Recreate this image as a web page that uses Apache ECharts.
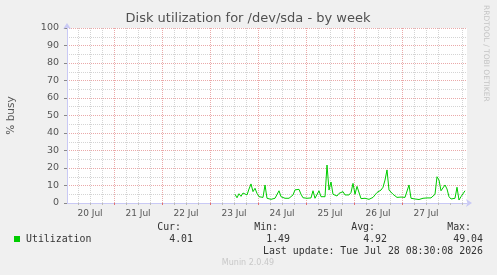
<!DOCTYPE html>
<html>
<head>
<meta charset="utf-8">
<script src="https://cdn.jsdelivr.net/npm/echarts@6/dist/echarts.min.js"></script>
<style>
html,body{margin:0;padding:0;background:#f0f0f0;}
#chart{width:497px;height:275px;}
</style>
</head>
<body>
<div id="chart"></div>
<script>
// ---- data (hours counted from 20 Jul 00:00) ----
const dayLabels = ['20 Jul','21 Jul','22 Jul','23 Jul','24 Jul','25 Jul','26 Jul','27 Jul'];
const yTickValues = [0,10,20,30,40,50,60,70,80,90,100];
const axisStartHour = 0.5;     // 20 Jul 00:30
const axisEndHour = 200.5;     // 28 Jul 08:30
const dataStartHour = 84.5;    // 23 Jul 12:30
const dataStepHours = 1;
const utilization = [
  5.0,3.0,5.3,3.8,5.7,6.5,4.6,8.0,10.9,6.5,
  8.4,5.5,3.6,2.7,3.2,10.3,2.7,3.0,2.1,2.7,
  2.7,3.6,7.0,3.6,4.6,2.7,2.7,2.7,3.2,4.6,
  7.5,8.4,7.8,5.0,3.0,2.7,2.7,2.7,2.9,7.0,
  2.7,3.6,7.0,3.6,2.7,3.6,21.7,7.4,12.0,5.0,
  4.6,4.0,5.5,5.0,6.5,4.6,4.6,4.6,6.0,11.2,
  5.0,9.5,10.3,2.5,2.1,2.7,2.5,2.1,2.9,3.2,
  4.6,6.0,6.5,7.4,9.0,13.1,18.9,7.4,6.5,5.0,
  4.0,3.2,3.0,3.4,2.7,3.2,3.6,10.3,2.7,1.7,
  2.3,2.7,2.0,2.3,2.7,2.7,2.9,3.0,2.9,2.7,
  5.0,15.0,13.1,7.0,6.5,10.3,8.0,3.6,2.3,1.7,
  2.7,9.0,1.7,3.6,3.0,7.0
];
const seriesName = 'Utilization';
const statLabels = ['Cur:','Min:','Avg:','Max:'];
const statValues = ['4.01','1.49','4.92','49.04'];
const lastUpdate = 'Last update: Tue Jul 28 08:30:08 2026';

// ---- derived ----
const points = utilization.map((v,i)=>[dataStartHour + i*dataStepHours, v]);
const midnights = dayLabels.slice(1).map((d,i)=>(i+1)*24);
const noons = dayLabels.map((d,i)=>i*24+12);
const sixHours = [];
for (let h = 6; h < axisEndHour; h += 6) if (h % 24 !== 0) sixHours.push(h);
const allTicks = [];
for (let h = 6; h < axisEndHour; h += 6) allTicks.push(h);

const MAJOR = '#eaa9a9';
const MINOR = '#d4d4d4';
const AXIS = '#c9c9f5';
const sans = 'DejaVu Sans';

const chart = echarts.init(document.getElementById('chart'), null, {renderer:'canvas'});

const statX = [193, 290, 387, 483];
const graphics = [
  {type:'text', x:248, y:19, style:{text:'Disk utilization for /dev/sda - by week', font:'13px "DejaVu Sans"', fill:'#505050', textAlign:'center', textVerticalAlign:'middle'}},
  {type:'text', x:490, y:5, rotation:-Math.PI/2, style:{text:'RRDTOOL / TOBI OETIKER', font:'7.5px "DejaVu Sans"', fill:'#c4c4c4', textAlign:'left', textVerticalAlign:'top'}},
  {type:'rect', shape:{x:14, y:236, width:6, height:6}, style:{fill:'#00cc00'}},
  {type:'text', x:26, y:239, style:{text:seriesName, font:'9.9px "DejaVu Sans Mono"', fill:'#333', textAlign:'left', textVerticalAlign:'middle'}},
  {type:'text', x:483, y:251.5, style:{text:lastUpdate, font:'9.9px "DejaVu Sans Mono"', fill:'#333', textAlign:'right', textVerticalAlign:'middle'}},
  {type:'text', x:248, y:263, style:{text:'Munin 2.0.49', font:'8px "DejaVu Sans"', fill:'#c8c8c8', textAlign:'center', textVerticalAlign:'middle'}}
];
statLabels.forEach((l,i)=>{
  graphics.push({type:'text', x:statX[i]-12, y:227.5, style:{text:l, font:'9.9px "DejaVu Sans Mono"', fill:'#333', textAlign:'right', textVerticalAlign:'middle'}});
  graphics.push({type:'text', x:statX[i], y:239.5, style:{text:statValues[i], font:'9.9px "DejaVu Sans Mono"', fill:'#333', textAlign:'right', textVerticalAlign:'middle'}});
});

chart.setOption({
  animation:false,
  backgroundColor:'#f0f0f0',
  grid:{left:67, top:28, width:400, height:175, show:true, backgroundColor:'#ffffff', borderWidth:0,
    containLabel:false, outerBoundsMode:'none'},
  xAxis:[{
    type:'value', min:axisStartHour, max:axisEndHour,
    axisLine:{show:true, lineStyle:{color:AXIS, width:1}, symbol:['none','arrow'], symbolSize:[6,6], symbolOffset:[0,5]},
    axisTick:{show:true, customValues:allTicks, length:2, lineStyle:{color:'#bbbbbb'}},
    axisLabel:{show:true, customValues:noons, margin:6, fontFamily:sans, fontSize:9, color:'#555',
      formatter:v=>dayLabels[Math.round((v-12)/24)]},
    splitLine:{show:false}
  },{
    type:'value', min:axisStartHour, max:axisEndHour, position:'bottom',
    axisLine:{show:false},
    axisTick:{show:true, customValues:midnights, length:2, lineStyle:{color:'#e07070'}},
    axisLabel:{show:false},
    splitLine:{show:false}
  }],
  yAxis:{
    type:'value', min:0, max:100, interval:10,
    name:'% busy', nameLocation:'middle', nameGap:50, nameRotate:90,
    nameTextStyle:{fontFamily:sans, fontSize:10.5, color:'#555'},
    axisLine:{show:true, lineStyle:{color:AXIS, width:1}, symbol:['none','arrow'], symbolSize:[6,6], symbolOffset:[0,5]},
    axisTick:{show:true, length:3, lineStyle:{color:'#888'}},
    axisLabel:{margin:8, fontFamily:sans, fontSize:9.5, color:'#555',
      formatter:v=>yTickValues.includes(v)?String(v):''},
    splitLine:{show:true, lineStyle:{color:MAJOR, type:[1,1], width:1}},
    minorTick:{show:false, splitNumber:2},
    minorSplitLine:{show:true, lineStyle:{color:MINOR, type:[1,1], width:1}}
  },
  series:[
    {type:'line', name:'minorgrid', data:points, z:1, silent:true, showSymbol:false, symbol:'none',
      lineStyle:{opacity:0},
      markLine:{silent:true, symbol:['none','none'], label:{show:false},
        lineStyle:{color:MINOR, type:[1,1], width:1},
        data:sixHours.map(h=>({xAxis:h}))}},
    {type:'line', name:'majorgrid', data:points, z:2, silent:true, showSymbol:false, symbol:'none',
      lineStyle:{opacity:0},
      markLine:{silent:true, symbol:['none','none'], label:{show:false},
        lineStyle:{color:MAJOR, type:[1,1], width:1},
        data:midnights.map(h=>({xAxis:h}))}},
    {type:'line', name:seriesName, data:points, z:5, showSymbol:false, symbol:'none',
      lineStyle:{color:'#00cc00', width:1}}
  ],
  graphic:graphics
});
</script>
</body>
</html>
